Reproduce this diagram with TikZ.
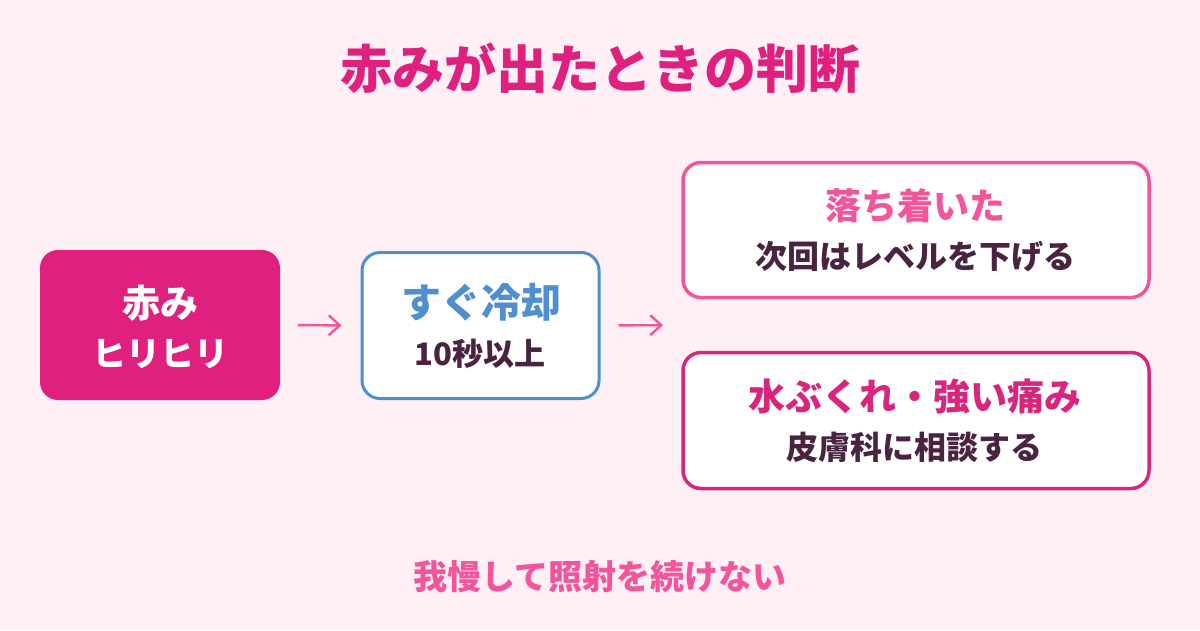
\documentclass[tikz,border=0pt]{standalone}
\usepackage{fontspec}
\setmainfont{Noto Sans CJK JP}[BoldFont={Noto Sans CJK JP Black}]
\usetikzlibrary{arrows.meta}
\definecolor{bgpink}{HTML}{FFF0F6}
\definecolor{magenta}{HTML}{E0207F}
\definecolor{magentadk}{HTML}{D8267F}
\definecolor{pinklt}{HTML}{F2559B}
\definecolor{bluec}{HTML}{4F8FD0}
\definecolor{darktxt}{HTML}{4A2340}
\tikzset{
  box/.style={rounded corners=18pt, minimum width=#1, inner sep=0pt},
  txt/.style={inner sep=0pt, font=\bfseries\fontsize{#1}{#1}\selectfont},
  flow/.style={draw=pinklt, line width=2.4pt, -{Straight Barb[length=11pt,width=20pt,line width=2.4pt]}, shorten <=18pt, shorten >=19pt},
}
\begin{document}
\begin{tikzpicture}[x=1pt,y=-1pt]
\fill[bgpink] (0,0) rectangle (1200,630);
\useasboundingbox (0,0) rectangle (1200,630);
\node[txt=52, text=magenta] (title) at (600,68) {赤みが出たときの判断};
% box 1
\node[box=240pt, minimum height=150pt, fill=magenta] (b1) at (160,325) {};
\node[txt=38, text=white] (b1a) at (160,303) {赤み};
\node[txt=34, text=white] (b1b) at (160,354) {ヒリヒリ};
% box 2
\node[box=237pt, minimum height=146pt, fill=white, draw=bluec, line width=3pt] (b2) at (480.5,325.5) {};
\node[txt=40, text=bluec] (b2a) at (481,302) {すぐ冷却};
\node[txt=31, text=darktxt] (b2b) at (480,354) {10秒以上};
% box 3
\node[box=466pt, minimum height=135pt, fill=white, draw=pinklt, line width=3.5pt] (b3) at (916,230) {};
\node[txt=36, text=pinklt] (b3a) at (915,206) {落ち着いた};
\node[txt=32, text=darktxt] (b3b) at (915,257) {次回はレベルを下げる};
% box 4
\node[box=466pt, minimum height=136pt, fill=white, draw=magentadk, line width=3.5pt] (b4) at (916,420.5) {};
\node[txt=37, text=magentadk] (b4a) at (915,396) {水ぶくれ・強い痛み};
\node[txt=32, text=darktxt] (b4b) at (914,447) {皮膚科に相談する};
% footer
\node[txt=34, text=pinklt] (foot) at (600,577) {我慢して照射を続けない};
% arrows
\coordinate (r) at (682,325);
\draw[flow] (b1.east) -- (b2.west);
\draw[flow] (b2.east) -- (r);
\end{tikzpicture}
\end{document}
